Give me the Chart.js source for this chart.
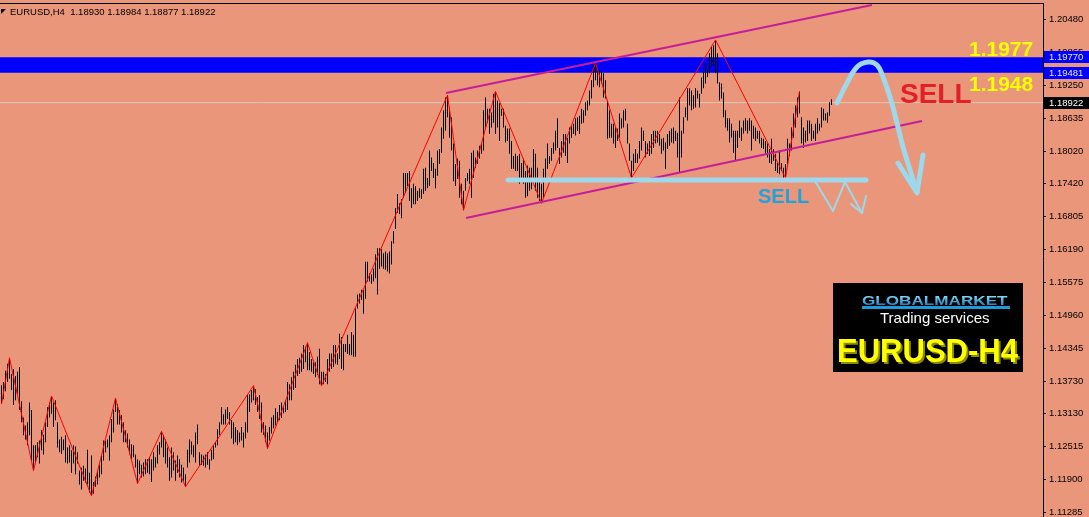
<!DOCTYPE html>
<html><head><meta charset="utf-8">
<script src="https://cdn.jsdelivr.net/npm/chart.js@4.4.1/dist/chart.umd.min.js"></script>
<style>html,body{margin:0;padding:0;background:#e9967a;overflow:hidden}canvas{display:block}</style>
</head><body>
<canvas id="c" width="1089" height="517"></canvas>
<script>
// ---------- data ----------
const symbolTitle = 'EURUSD,H4';
const lastOHLC = [1.18930, 1.18984, 1.18877, 1.18922];
const bidPrice = 1.18922;
const zoneHigh = 1.19770, zoneLow = 1.19481;
const yTicks = [1.20480,1.19865,1.19250,1.18635,1.18020,1.17420,1.16805,1.16190,1.15575,1.14960,1.14345,1.13730,1.13130,1.12515,1.11900,1.11285];
const yMin = 1.11206, yMax = 1.20778;
const xMin = -0.75, xMax = 520.75;

// H4 bars as [high, low]
const bars = [
[1.1366,1.1331],[1.1372,1.1340],[1.1393,1.1355],[1.1406,1.1372],[1.1417,1.1378],[1.1387,1.1357],[1.1396,1.1329],[1.1383,1.1338],[1.1391,1.1350],[1.1400,1.1320],
[1.1336,1.1297],[1.1306,1.1273],[1.1291,1.1265],[1.1297,1.1254],[1.1334,1.1273],[1.1320,1.1226],[1.1254,1.1207],[1.1254,1.1222],[1.1260,1.1232],[1.1263,1.1220],
[1.1282,1.1245],[1.1274,1.1237],[1.1297,1.1260],[1.1325,1.1288],[1.1334,1.1306],[1.1346,1.1313],[1.1334,1.1288],[1.1338,1.1301],[1.1297,1.1250],[1.1265,1.1241],
[1.1270,1.1238],[1.1265,1.1245],[1.1273,1.1222],[1.1250,1.1220],[1.1254,1.1222],[1.1245,1.1203],[1.1254,1.1220],[1.1252,1.1200],[1.1241,1.1220],[1.1207,1.1181],
[1.1213,1.1172],[1.1216,1.1188],[1.1211,1.1185],[1.1246,1.1181],[1.1203,1.1166],[1.1235,1.1160],[1.1186,1.1164],[1.1196,1.1177],[1.1207,1.1181],[1.1218,1.1194],
[1.1235,1.1200],[1.1263,1.1226],[1.1263,1.1241],[1.1265,1.1250],[1.1273,1.1226],[1.1303,1.1260],[1.1321,1.1278],[1.1342,1.1316],[1.1331,1.1293],[1.1320,1.1293],
[1.1310,1.1278],[1.1297,1.1260],[1.1282,1.1260],[1.1276,1.1250],[1.1265,1.1237],[1.1256,1.1228],[1.1254,1.1232],[1.1237,1.1213],[1.1228,1.1183],[1.1226,1.1200],
[1.1218,1.1194],[1.1222,1.1196],[1.1228,1.1200],[1.1228,1.1203],[1.1232,1.1200],[1.1228,1.1186],[1.1241,1.1207],[1.1232,1.1213],[1.1254,1.1220],[1.1260,1.1237],
[1.1280,1.1250],[1.1273,1.1232],[1.1265,1.1220],[1.1250,1.1213],[1.1232,1.1188],[1.1250,1.1194],[1.1241,1.1207],[1.1226,1.1188],[1.1235,1.1203],[1.1228,1.1194],
[1.1218,1.1185],[1.1213,1.1188],[1.1200,1.1177],[1.1246,1.1213],[1.1265,1.1222],[1.1261,1.1237],[1.1254,1.1232],[1.1278,1.1222],[1.1293,1.1256],[1.1241,1.1216],
[1.1237,1.1218],[1.1235,1.1216],[1.1237,1.1213],[1.1241,1.1218],[1.1228,1.1209],[1.1246,1.1226],[1.1254,1.1228],[1.1260,1.1250],[1.1284,1.1254],[1.1297,1.1273],
[1.1325,1.1293],[1.1312,1.1293],[1.1321,1.1293],[1.1325,1.1303],[1.1316,1.1293],[1.1301,1.1267],[1.1297,1.1256],[1.1288,1.1260],[1.1282,1.1254],[1.1278,1.1260],
[1.1288,1.1263],[1.1278,1.1250],[1.1297,1.1267],[1.1348,1.1278],[1.1349,1.1316],[1.1357,1.1334],[1.1365,1.1338],[1.1359,1.1329],[1.1344,1.1316],[1.1348,1.1303],
[1.1334,1.1278],[1.1297,1.1274],[1.1291,1.1260],[1.1278,1.1248],[1.1288,1.1263],[1.1306,1.1276],[1.1310,1.1286],[1.1323,1.1291],[1.1316,1.1297],[1.1329,1.1301],
[1.1334,1.1305],[1.1325,1.1314],[1.1338,1.1316],[1.1372,1.1320],[1.1368,1.1338],[1.1381,1.1338],[1.1391,1.1357],[1.1404,1.1361],[1.1415,1.1383],[1.1417,1.1387],
[1.1425,1.1391],[1.1441,1.1396],[1.1438,1.1409],[1.1445,1.1394],[1.1428,1.1394],[1.1415,1.1391],[1.1409,1.1387],[1.1409,1.1381],[1.1419,1.1385],[1.1434,1.1368],
[1.1391,1.1365],[1.1391,1.1368],[1.1387,1.1372],[1.1415,1.1368],[1.1425,1.1391],[1.1425,1.1396],[1.1441,1.1400],[1.1441,1.1406],[1.1425,1.1404],[1.1462,1.1415],
[1.1456,1.1396],[1.1443,1.1394],[1.1443,1.1428],[1.1460,1.1424],[1.1443,1.1422],[1.1465,1.1422],[1.1460,1.1419],[1.1509,1.1419],[1.1535,1.1509],[1.1537,1.1518],
[1.1544,1.1525],[1.1544,1.1499],[1.1596,1.1527],[1.1596,1.1559],[1.1574,1.1559],[1.1572,1.1555],[1.1583,1.1559],[1.1610,1.1565],[1.1621,1.1535],[1.1621,1.1583],
[1.1619,1.1587],[1.1612,1.1583],[1.1615,1.1581],[1.1612,1.1578],[1.1615,1.1574],[1.1634,1.1591],[1.1653,1.1630],[1.1696,1.1657],[1.1722,1.1687],[1.1705,1.1685],
[1.1713,1.1677],[1.1761,1.1715],[1.1761,1.1724],[1.1761,1.1737],[1.1765,1.1709],[1.1733,1.1696],[1.1741,1.1703],[1.1737,1.1703],[1.1728,1.1709],[1.1733,1.1715],
[1.1731,1.1713],[1.1769,1.1722],[1.1771,1.1728],[1.1752,1.1733],[1.1803,1.1737],[1.1790,1.1765],[1.1780,1.1752],[1.1769,1.1733],[1.1803,1.1756],[1.1806,1.1778],
[1.1846,1.1799],[1.1878,1.1825],[1.1902,1.1840],[1.1906,1.1865],[1.1883,1.1827],[1.1865,1.1803],[1.1816,1.1746],[1.1778,1.1737],[1.1788,1.1750],[1.1784,1.1715],
[1.1741,1.1703],[1.1728,1.1692],[1.1752,1.1728],[1.1761,1.1746],[1.1769,1.1741],[1.1799,1.1715],[1.1803,1.1752],[1.1790,1.1771],[1.1803,1.1778],[1.1812,1.1788],
[1.1816,1.1797],[1.1878,1.1803],[1.1902,1.1846],[1.1881,1.1855],[1.1881,1.1834],[1.1874,1.1846],[1.1909,1.1855],[1.1913,1.1834],[1.1896,1.1846],[1.1891,1.1821],
[1.1881,1.1868],[1.1881,1.1846],[1.1849,1.1818],[1.1844,1.1821],[1.1844,1.1797],[1.1821,1.1769],[1.1793,1.1769],[1.1797,1.1765],[1.1793,1.1765],[1.1797,1.1741],
[1.1780,1.1752],[1.1788,1.1741],[1.1765,1.1715],[1.1775,1.1718],[1.1771,1.1728],[1.1771,1.1731],[1.1806,1.1746],[1.1797,1.1728],[1.1771,1.1715],[1.1746,1.1709],
[1.1741,1.1705],[1.1769,1.1715],[1.1788,1.1750],[1.1816,1.1769],[1.1793,1.1778],[1.1808,1.1784],[1.1818,1.1797],[1.1840,1.1803],[1.1863,1.1808],[1.1808,1.1778],
[1.1821,1.1790],[1.1834,1.1799],[1.1834,1.1793],[1.1827,1.1780],[1.1846,1.1816],[1.1849,1.1827],[1.1853,1.1834],[1.1863,1.1831],[1.1865,1.1840],[1.1868,1.1834],
[1.1881,1.1853],[1.1878,1.1855],[1.1893,1.1868],[1.1896,1.1878],[1.1915,1.1887],[1.1934,1.1900],[1.1962,1.1921],[1.1966,1.1934],[1.1956,1.1924],[1.1953,1.1921],
[1.1949,1.1928],[1.1947,1.1902],[1.1934,1.1900],[1.1896,1.1825],[1.1878,1.1827],[1.1853,1.1827],[1.1853,1.1816],[1.1846,1.1808],[1.1844,1.1821],[1.1872,1.1827],
[1.1863,1.1844],[1.1878,1.1846],[1.1881,1.1859],[1.1853,1.1816],[1.1816,1.1784],[1.1784,1.1752],[1.1797,1.1765],[1.1806,1.1780],[1.1797,1.1780],[1.1821,1.1788],
[1.1846,1.1803],[1.1840,1.1821],[1.1821,1.1790],[1.1816,1.1797],[1.1821,1.1793],[1.1834,1.1797],[1.1840,1.1808],[1.1840,1.1816],[1.1840,1.1818],[1.1834,1.1812],
[1.1825,1.1797],[1.1827,1.1803],[1.1818,1.1769],[1.1834,1.1806],[1.1840,1.1812],[1.1844,1.1818],[1.1846,1.1816],[1.1840,1.1821],[1.1836,1.1790],[1.1902,1.1761],
[1.1840,1.1790],[1.1865,1.1835],[1.1883,1.1865],[1.1919,1.1859],[1.1919,1.1887],[1.1915,1.1878],[1.1906,1.1881],[1.1919,1.1883],[1.1915,1.1900],[1.1909,1.1883],
[1.1939,1.1909],[1.1949,1.1919],[1.1966,1.1928],[1.1953,1.1940],[1.1984,1.1947],[1.1996,1.1958],[1.1999,1.1962],[1.2009,1.1947],[1.1984,1.1928],[1.1930,1.1896],
[1.1928,1.1900],[1.1911,1.1865],[1.1878,1.1846],[1.1863,1.1840],[1.1863,1.1818],[1.1853,1.1827],[1.1840,1.1799],[1.1840,1.1784],[1.1840,1.1808],[1.1859,1.1827],
[1.1846,1.1821],[1.1859,1.1835],[1.1863,1.1840],[1.1859,1.1835],[1.1863,1.1840],[1.1859,1.1803],[1.1849,1.1825],[1.1846,1.1821],[1.1840,1.1825],[1.1840,1.1816],
[1.1827,1.1808],[1.1825,1.1806],[1.1821,1.1797],[1.1816,1.1790],[1.1806,1.1780],[1.1825,1.1778],[1.1806,1.1784],[1.1797,1.1765],[1.1780,1.1761],[1.1803,1.1759],
[1.1780,1.1765],[1.1771,1.1752],[1.1778,1.1752],[1.1825,1.1778],[1.1816,1.1793],[1.1846,1.1803],[1.1872,1.1827],[1.1887,1.1846],[1.1902,1.1865],[1.1913,1.1872],
[1.1865,1.1816],[1.1846,1.1808],[1.1840,1.1818],[1.1859,1.1821],[1.1859,1.1835],[1.1853,1.1821],[1.1840,1.1825],[1.1853,1.1821],[1.1863,1.1835],[1.1853,1.1840],
[1.1883,1.1846],[1.1881,1.1859],[1.1872,1.1859],[1.1874,1.1855],[1.1893,1.1868],[1.18984,1.18877]
];

// ZigZag pivots (bar index, price)
const pivotIdx   = [0, 4, 16, 25, 45, 57, 68, 80, 92, 126, 133, 153, 160, 223, 231, 247, 270, 297, 315, 357, 392, 399];
const pivotPrice = [1.1331,1.1417,1.1207,1.1346,1.1160,1.1342,1.1183,1.1280,1.1177,1.1365,1.1248,1.1445,1.1365,1.1906,1.1692,1.1913,1.1705,1.1966,1.1752,1.2009,1.1752,1.1913];

// Channel lines (bar index, price)
const upperChX = [222.25, 435.25], upperChY = [1.19102, 1.20741];
const lowerChX = [232.25, 460.25], lowerChY = [1.16774, 1.18580];
// Support line
const supportX = [253.25, 432.25], supportY = 1.17482;
// Small zigzag sell arrow
const zigArrowX = [406.75, 415.75, 421.75, 430.25], zigArrowY = [1.17463, 1.16905, 1.17445, 1.16867];
const zigHeadX = [424.75, 430.25, 432.25], zigHeadY = [1.17035, 1.16867, 1.17184];
// Big curved sell arrow
const curveX = [417.75, 422.75, 427.75, 433.25, 437.75, 440.75, 444.25, 447.75, 450.75, 454.25, 457.75];
const curveY = [1.18916, 1.19288, 1.19586, 1.19679, 1.19623, 1.19400, 1.19027, 1.18543, 1.18096, 1.17668, 1.17258];
const curveHeadX = [448.25, 457.75, 460.75], curveHeadY = [1.17798, 1.17240, 1.17947];

// ---------- styles ----------
const BG = '#e9967a';
const LIGHTBLUE = '#9ed8ea';
const MAGENTA = '#c41f98';
const FONT = '"Liberation Sans", Arial, sans-serif';
const pts = (xs, ys) => xs.map((x, i) => ({x, y: Array.isArray(ys) ? ys[i] : ys}));
const lineDs = (data, color, width, order, extra) => Object.assign({
  type: 'line', data, borderColor: color, borderWidth: width, pointRadius: 0, fill: false,
  tension: 0, order, borderCapStyle: 'round', borderJoinStyle: 'round'
}, extra || {});

const decor = {
  id: 'decor',
  beforeDraw(chart) {
    const c = chart.ctx;
    c.save(); c.fillStyle = BG; c.fillRect(0, 0, chart.width, chart.height); c.restore();
  },
  afterDraw(chart) {
    const c = chart.ctx, ys = chart.scales.y, a = chart.chartArea;
    c.save();
    // window frame top line
    c.fillStyle = '#000';
    c.fillRect(0, a.top, a.right, 1);
    // title
    c.beginPath(); c.moveTo(1, 9); c.lineTo(6, 9); c.lineTo(1, 14); c.closePath(); c.fill();
    c.font = '9.5px ' + FONT; c.textAlign = 'left'; c.textBaseline = 'alphabetic';
    c.fillText(symbolTitle + '  ' + lastOHLC.map(v => v.toFixed(5)).join(' '), 10, 15);
    // axis price tags
    const tag = (v, bg, fg) => {
      const y = Math.round(ys.getPixelForValue(v));
      c.fillStyle = bg; c.fillRect(a.right + 1, y - 6, 45, 12);
      c.fillStyle = fg; c.font = '9.5px ' + FONT; c.textBaseline = 'middle'; c.textAlign = 'left';
      c.fillText(v.toFixed(5), a.right + 6, y + 0.5);
    };
    tag(zoneHigh, '#0000ff', '#e4e4ff');
    tag(zoneLow, '#0000ff', '#e4e4ff');
    tag(bidPrice, '#000000', '#ffffff');
    // texts on chart
    c.textBaseline = 'alphabetic'; c.textAlign = 'left';
    c.font = 'bold 21px ' + FONT; c.fillStyle = '#ffff00';
    c.fillText(zoneHigh.toFixed(4), 969, 56);
    c.fillText(zoneLow.toFixed(4), 969, 91);
    c.font = 'bold 28px ' + FONT; c.fillStyle = '#e3202a';
    c.fillText('SELL', 900, 103);
    c.font = 'bold 20px ' + FONT; c.fillStyle = '#1fa3dd';
    c.fillText('SELL', 758, 203);
    // logo box
    c.fillStyle = '#000'; c.fillRect(833, 283, 190, 89);
    c.save();
    c.translate(862, 305); c.scale(1.37, 1);
    const g = c.createLinearGradient(0, -10, 0, 0);
    g.addColorStop(0, '#8fe0ff'); g.addColorStop(1, '#1a86c8');
    c.fillStyle = g; c.font = 'bold 12.5px ' + FONT;
    c.fillText('GLOBALMARKET', 0, 0);
    c.restore();
    c.fillStyle = '#1f9ad6'; c.fillRect(862, 306, 148, 3);
    c.fillStyle = '#ffffff'; c.font = '15px ' + FONT;
    c.fillText('Trading services', 880, 323);
    c.font = 'bold 33px ' + FONT;
    c.fillStyle = '#8c8c00'; c.fillText('EURUSD-H4', 839, 364, 181);
    c.fillStyle = '#ffff00'; c.fillText('EURUSD-H4', 837, 362, 181);
    c.restore();
  }
};

new Chart(document.getElementById('c'), {
  type: 'bar',
  data: {
    datasets: [
      lineDs(pts([xMin, xMax], zoneHigh), 'rgba(0,0,0,0)', 0, 10, {fill: {value: zoneLow}, backgroundColor: '#0000ff'}),
      lineDs(pts([xMin, xMax], bidPrice), '#dcc6be', 1, 9, {borderCapStyle: 'butt'}),
      {
        type: 'bar', order: 5,
        data: bars.map((b, i) => ({x: i, y: [b[1], b[0]]})),
        backgroundColor: '#000000', borderWidth: 0, barThickness: 1, grouped: false,
        inflateAmount: 0, borderSkipped: false
      },
      lineDs(pts(pivotIdx.map(v => v), pivotPrice), '#ff0000', 1, 4, {borderCapStyle: 'butt'}),
      lineDs(pts(upperChX, upperChY), MAGENTA, 2, 3, {borderCapStyle: 'butt'}),
      lineDs(pts(lowerChX, lowerChY), MAGENTA, 2, 3, {borderCapStyle: 'butt'}),
      lineDs(pts(supportX, supportY), LIGHTBLUE, 5, 2),
      lineDs(pts(zigArrowX, zigArrowY), LIGHTBLUE, 2, 1),
      lineDs(pts(zigHeadX, zigHeadY), LIGHTBLUE, 2, 1),
      lineDs(pts(curveX, curveY), LIGHTBLUE, 5, 1, {tension: 0.4}),
      lineDs(pts(curveHeadX, curveHeadY), LIGHTBLUE, 5, 1)
    ]
  },
  options: {
    responsive: false, animation: false, devicePixelRatio: 1, events: [],
    layout: {padding: {top: 3, left: 0, right: 0, bottom: 0}},
    plugins: {legend: {display: false}, tooltip: {enabled: false}, title: {display: false}},
    scales: {
      x: {type: 'linear', min: xMin, max: xMax, display: false, offset: false, grid: {display: false}},
      y: {
        type: 'linear', position: 'right', min: yMin, max: yMax,
        afterBuildTicks: s => { s.ticks = yTicks.map(v => ({value: v})); },
        afterFit: s => { s.width = 46; s.paddingTop = 0; s.paddingBottom = 0; },
        grid: {drawOnChartArea: false, drawTicks: true, tickLength: 3, color: '#000', lineWidth: 1},
        border: {display: true, color: '#000', width: 1},
        ticks: {
          autoSkip: false, padding: 3, color: '#000', crossAlign: 'near',
          font: {family: FONT, size: 9.5},
          callback: v => Number(v).toFixed(5)
        }
      }
    }
  },
  plugins: [decor]
});
</script>
</body></html>
